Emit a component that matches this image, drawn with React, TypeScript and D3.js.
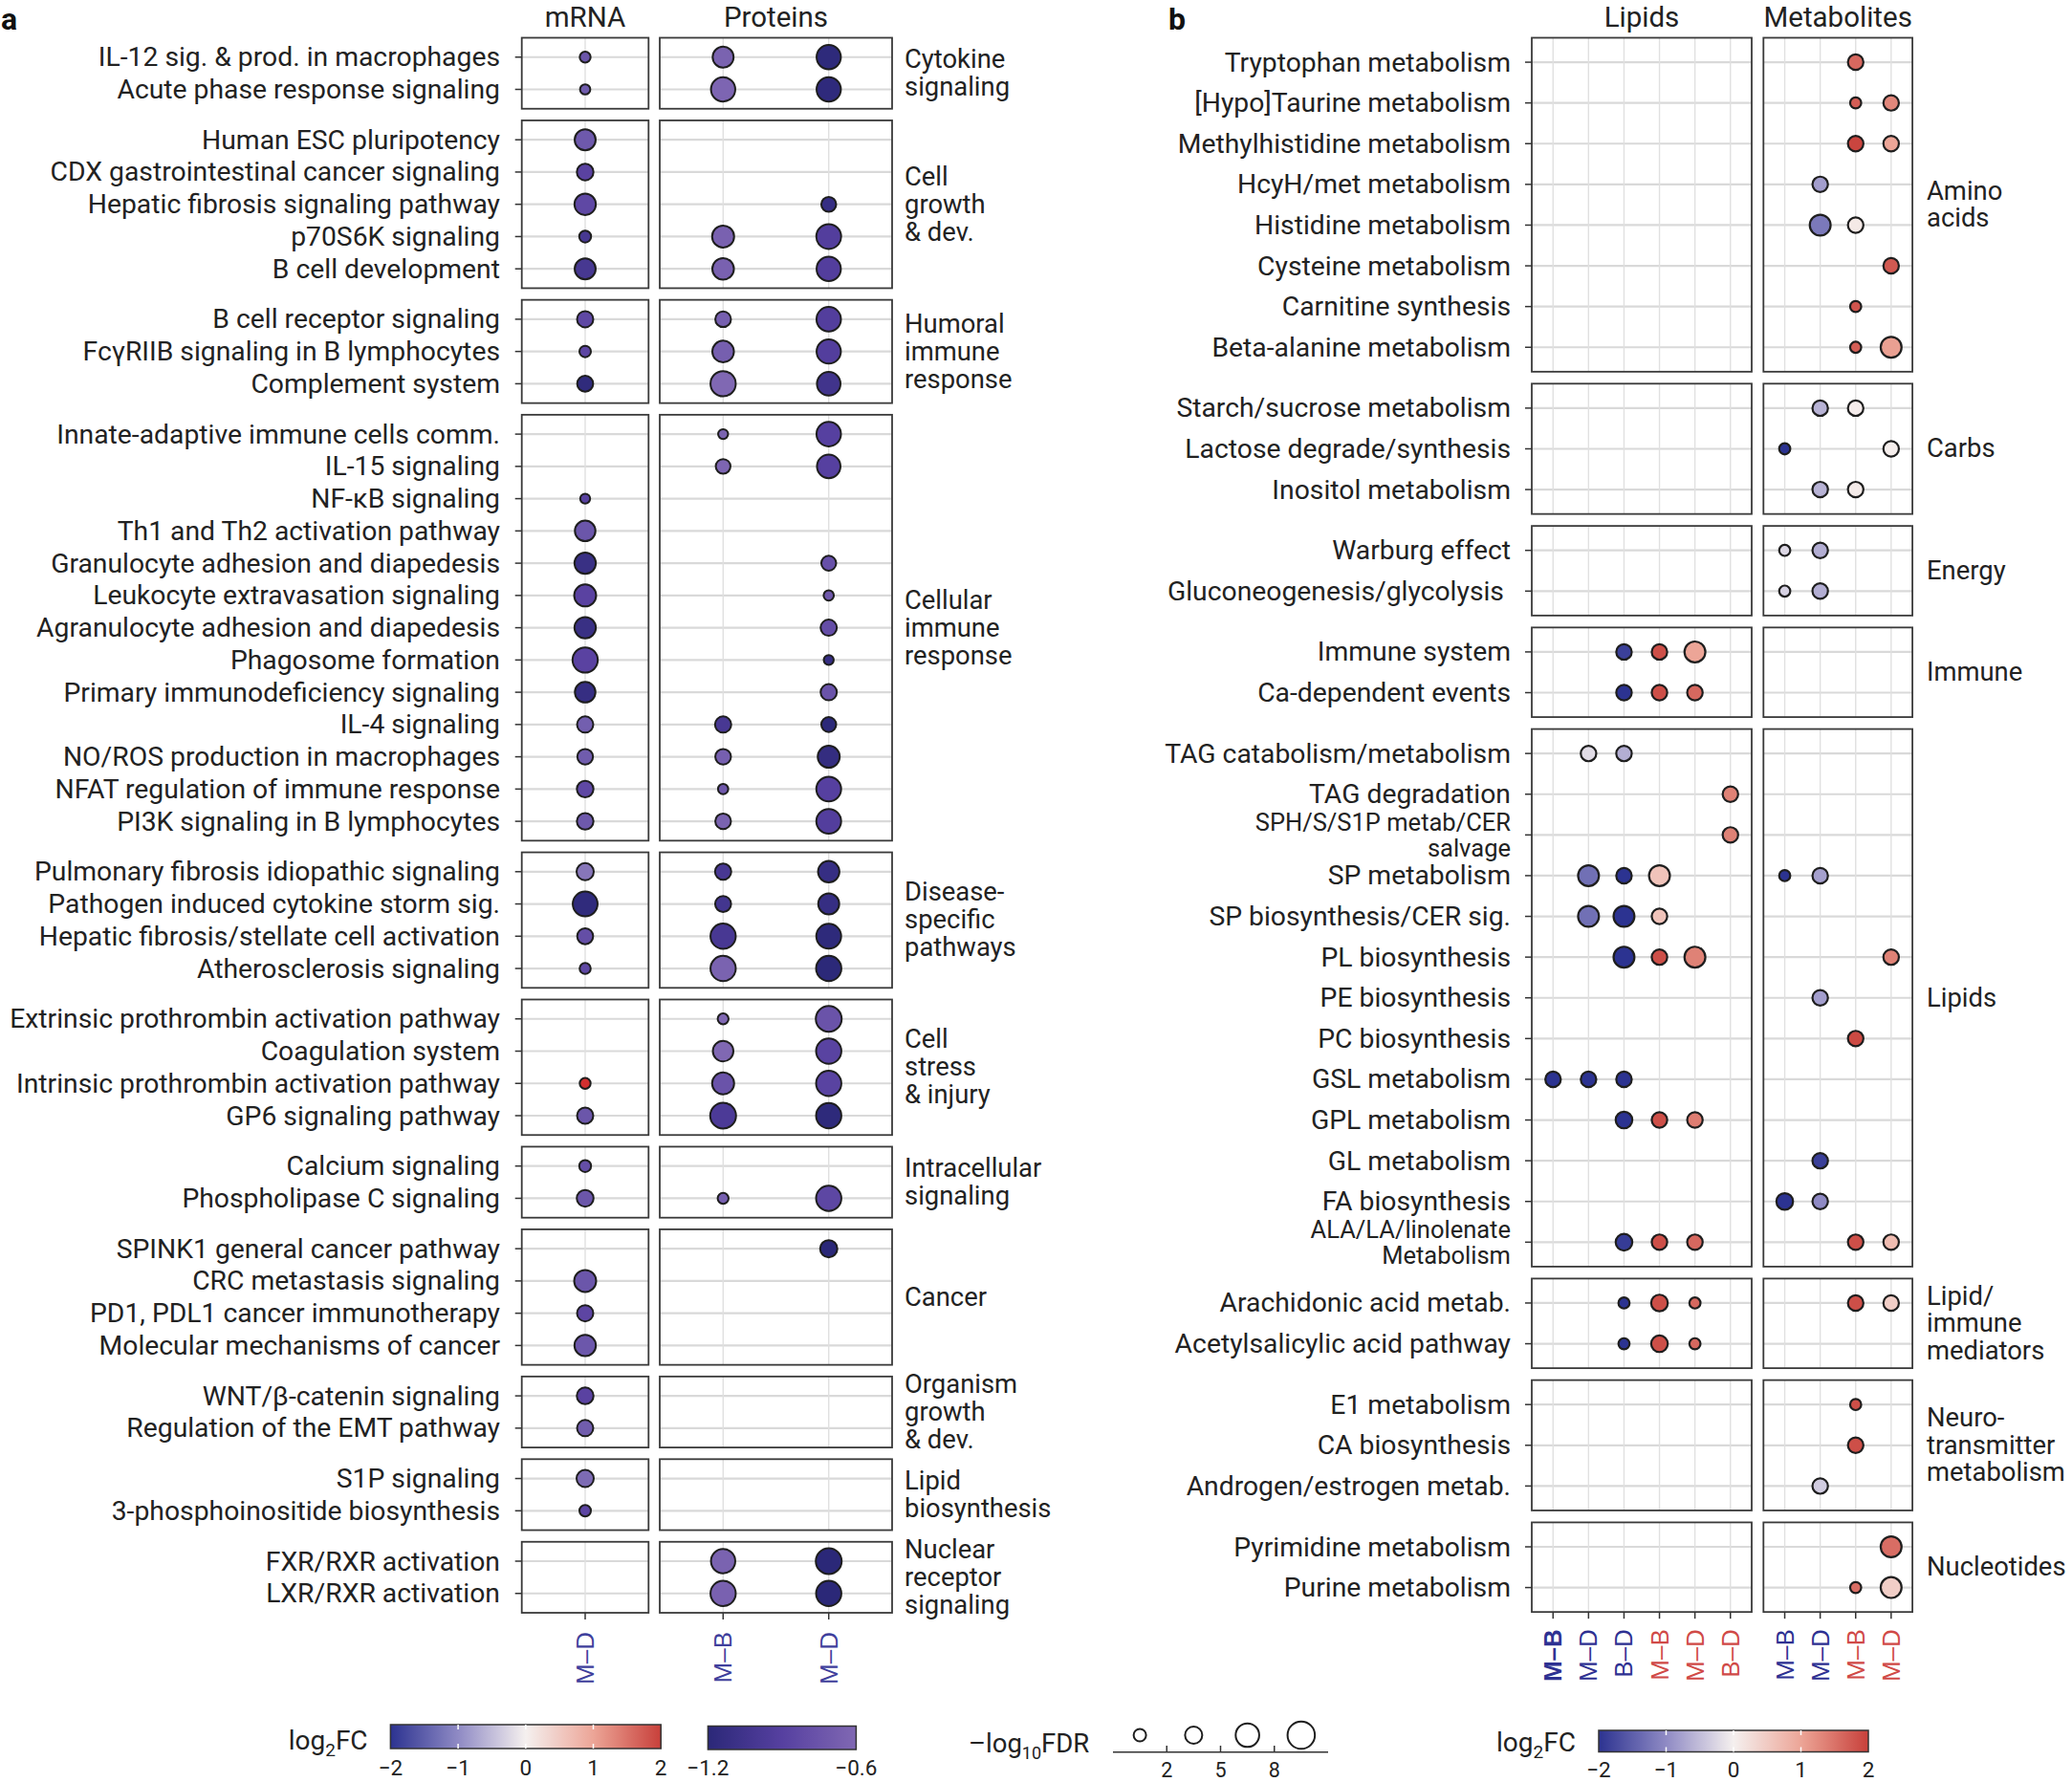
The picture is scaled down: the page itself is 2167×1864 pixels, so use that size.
import React from "react";
import * as d3 from "d3";

const W = 2167;
const H = 1864;
const FONT = "Roboto, 'Noto Sans', 'DejaVu Sans', sans-serif";
const AXFONT = "'Liberation Sans', Arial, sans-serif";
const ROWFS = 28.3;
const ROWFS2 = 25.5;
const STRIPFS = 27.4;

// ---------------- Panel a data ----------------
const aGroupLabels = [
  "Cytokine\nsignaling",
  "Cell\ngrowth\n& dev.",
  "Humoral\nimmune\nresponse",
  "Cellular\nimmune\nresponse",
  "Disease-\nspecific\npathways",
  "Cell\nstress\n& injury",
  "Intracellular\nsignaling",
  "Cancer",
  "Organism\ngrowth\n& dev.",
  "Lipid\nbiosynthesis",
  "Nuclear\nreceptor\nsignaling",
];

const aGroupRows: string[][] = [
  ["IL-12 sig. & prod. in macrophages", "Acute phase response signaling"],
  ["Human ESC pluripotency", "CDX gastrointestinal cancer signaling", "Hepatic fibrosis signaling pathway", "p70S6K signaling", "B cell development"],
  ["B cell receptor signaling", "FcγRIIB signaling in B lymphocytes", "Complement system"],
  ["Innate-adaptive immune cells comm.", "IL-15 signaling", "NF-κB signaling", "Th1 and Th2 activation pathway", "Granulocyte adhesion and diapedesis", "Leukocyte extravasation signaling", "Agranulocyte adhesion and diapedesis", "Phagosome formation", "Primary immunodeficiency signaling", "IL-4 signaling", "NO/ROS production in macrophages", "NFAT regulation of immune response", "PI3K signaling in B lymphocytes"],
  ["Pulmonary fibrosis idiopathic signaling", "Pathogen induced cytokine storm sig.", "Hepatic fibrosis/stellate cell activation", "Atherosclerosis signaling"],
  ["Extrinsic prothrombin activation pathway", "Coagulation system", "Intrinsic prothrombin activation pathway", "GP6 signaling pathway"],
  ["Calcium signaling", "Phospholipase C signaling"],
  ["SPINK1 general cancer pathway", "CRC metastasis signaling", "PD1, PDL1 cancer immunotherapy", "Molecular mechanisms of cancer"],
  ["WNT/β-catenin signaling", "Regulation of the EMT pathway"],
  ["S1P signaling", "3-phosphoinositide biosynthesis"],
  ["FXR/RXR activation", "LXR/RXR activation"],
];

const aMrnaCols = ["M–D"];
const aProtCols = ["M–B", "M–D"];

// [pathway, log2FC, -log10FDR]
const aMrnaMD: [string, number, number][] = [
  ["IL-12 sig. & prod. in macrophages", -1.33, 1.35],
  ["Acute phase response signaling", -1.28, 1.2],
  ["Human ESC pluripotency", -1.3, 5.0],
  ["CDX gastrointestinal cancer signaling", -1.5, 3.15],
  ["Hepatic fibrosis signaling pathway", -1.45, 5.2],
  ["p70S6K signaling", -1.7, 1.6],
  ["B cell development", -1.7, 5.0],
  ["B cell receptor signaling", -1.45, 3.0],
  ["FcγRIIB signaling in B lymphocytes", -1.47, 1.5],
  ["Complement system", -1.95, 2.9],
  ["NF-κB signaling", -1.52, 1.13],
  ["Th1 and Th2 activation pathway", -1.33, 4.8],
  ["Granulocyte adhesion and diapedesis", -1.85, 5.2],
  ["Leukocyte extravasation signaling", -1.5, 5.5],
  ["Agranulocyte adhesion and diapedesis", -1.85, 5.2],
  ["Phagosome formation", -1.5, 7.25],
  ["Primary immunodeficiency signaling", -1.88, 4.8],
  ["IL-4 signaling", -1.25, 3.0],
  ["NO/ROS production in macrophages", -1.28, 2.8],
  ["NFAT regulation of immune response", -1.45, 3.15],
  ["PI3K signaling in B lymphocytes", -1.3, 3.15],
  ["Pulmonary fibrosis idiopathic signaling", -1.05, 3.37],
  ["Pathogen induced cytokine storm sig.", -1.95, 7.0],
  ["Hepatic fibrosis/stellate cell activation", -1.4, 2.9],
  ["Atherosclerosis signaling", -1.45, 1.4],
  ["Intrinsic prothrombin activation pathway", 2.0, 1.35],
  ["GP6 signaling pathway", -1.33, 3.0],
  ["Calcium signaling", -1.4, 1.6],
  ["Phospholipase C signaling", -1.33, 3.2],
  ["CRC metastasis signaling", -1.33, 5.5],
  ["PD1, PDL1 cancer immunotherapy", -1.47, 3.0],
  ["Molecular mechanisms of cancer", -1.32, 5.2],
  ["WNT/β-catenin signaling", -1.5, 3.2],
  ["Regulation of the EMT pathway", -1.27, 3.0],
  ["S1P signaling", -1.15, 3.37],
  ["3-phosphoinositide biosynthesis", -1.47, 1.5],
];

const aProtMB: [string, number, number][] = [
  ["IL-12 sig. & prod. in macrophages", -0.64, 5.0],
  ["Acute phase response signaling", -0.62, 6.7],
  ["p70S6K signaling", -0.65, 5.5],
  ["B cell development", -0.65, 5.3],
  ["B cell receptor signaling", -0.67, 2.8],
  ["FcγRIIB signaling in B lymphocytes", -0.67, 5.3],
  ["Complement system", -0.6, 7.25],
  ["Innate-adaptive immune cells comm.", -0.64, 1.13],
  ["IL-15 signaling", -0.62, 2.47],
  ["IL-4 signaling", -1.0, 3.0],
  ["NO/ROS production in macrophages", -0.67, 2.8],
  ["NFAT regulation of immune response", -0.72, 1.2],
  ["PI3K signaling in B lymphocytes", -0.64, 2.8],
  ["Pulmonary fibrosis idiopathic signaling", -1.0, 3.0],
  ["Pathogen induced cytokine storm sig.", -1.03, 2.9],
  ["Hepatic fibrosis/stellate cell activation", -1.0, 7.25],
  ["Atherosclerosis signaling", -0.64, 7.25],
  ["Extrinsic prothrombin activation pathway", -0.6, 1.35],
  ["Coagulation system", -0.6, 4.8],
  ["Intrinsic prothrombin activation pathway", -0.76, 5.5],
  ["GP6 signaling pathway", -0.97, 7.6],
  ["Phospholipase C signaling", -0.67, 1.35],
  ["FXR/RXR activation", -0.64, 6.7],
  ["LXR/RXR activation", -0.65, 7.25],
];

const aProtMD: [string, number, number][] = [
  ["IL-12 sig. & prod. in macrophages", -1.18, 6.7],
  ["Acute phase response signaling", -1.17, 6.7],
  ["Hepatic fibrosis signaling pathway", -1.12, 2.53],
  ["p70S6K signaling", -0.92, 7.0],
  ["B cell development", -0.92, 6.7],
  ["B cell receptor signaling", -0.92, 6.8],
  ["FcγRIIB signaling in B lymphocytes", -0.92, 6.7],
  ["Complement system", -1.05, 6.3],
  ["Innate-adaptive immune cells comm.", -0.9, 6.8],
  ["IL-15 signaling", -0.9, 6.3],
  ["Granulocyte adhesion and diapedesis", -0.78, 2.53],
  ["Leukocyte extravasation signaling", -0.72, 1.2],
  ["Agranulocyte adhesion and diapedesis", -0.8, 3.0],
  ["Phagosome formation", -1.12, 1.13],
  ["Primary immunodeficiency signaling", -0.76, 3.0],
  ["IL-4 signaling", -1.19, 2.53],
  ["NO/ROS production in macrophages", -1.14, 5.5],
  ["NFAT regulation of immune response", -0.9, 7.0],
  ["PI3K signaling in B lymphocytes", -0.92, 7.0],
  ["Pulmonary fibrosis idiopathic signaling", -1.12, 5.2],
  ["Pathogen induced cytokine storm sig.", -1.12, 5.0],
  ["Hepatic fibrosis/stellate cell activation", -1.18, 7.0],
  ["Atherosclerosis signaling", -1.19, 7.25],
  ["Extrinsic prothrombin activation pathway", -0.76, 7.6],
  ["Coagulation system", -0.88, 7.25],
  ["Intrinsic prothrombin activation pathway", -0.88, 7.25],
  ["GP6 signaling pathway", -1.18, 7.25],
  ["Phospholipase C signaling", -0.85, 7.25],
  ["SPINK1 general cancer pathway", -1.2, 3.37],
  ["FXR/RXR activation", -1.2, 7.6],
  ["LXR/RXR activation", -1.2, 7.25],
];

// ---------------- Panel b data ----------------
const GLUCO = "Gluconeogenesis/glycolysis\u00a0";
const SPH = "SPH/S/S1P metab/CER\nsalvage";
const ALA = "ALA/LA/linolenate\nMetabolism";

const bGroupLabels = [
  "Amino\nacids",
  "Carbs",
  "Energy",
  "Immune",
  "Lipids",
  "Lipid/\nimmune\nmediators",
  "Neuro-\ntransmitter\nmetabolism",
  "Nucleotides",
];

const bGroupRows: string[][] = [
  ["Tryptophan metabolism", "[Hypo]Taurine metabolism", "Methylhistidine metabolism", "HcyH/met metabolism", "Histidine metabolism", "Cysteine metabolism", "Carnitine synthesis", "Beta-alanine metabolism"],
  ["Starch/sucrose metabolism", "Lactose degrade/synthesis", "Inositol metabolism"],
  ["Warburg effect", GLUCO],
  ["Immune system", "Ca-dependent events"],
  ["TAG catabolism/metabolism", "TAG degradation", SPH, "SP metabolism", "SP biosynthesis/CER sig.", "PL biosynthesis", "PE biosynthesis", "PC biosynthesis", "GSL metabolism", "GPL metabolism", "GL metabolism", "FA biosynthesis", ALA],
  ["Arachidonic acid metab.", "Acetylsalicylic acid pathway"],
  ["E1 metabolism", "CA biosynthesis", "Androgen/estrogen metab."],
  ["Pyrimidine metabolism", "Purine metabolism"],
];

const bLipidCols = ["M–B", "M–D", "B–D", "M–B", "M–D", "B–D"];
const bMetabCols = ["M–B", "M–D", "M–B", "M–D"];

// [pathway, column index, log2FC, -log10FDR]
const bLipidPts: [string, number, number, number][] = [
  ["Immune system", 2, -1.85, 2.73], ["Immune system", 3, 1.85, 2.73], ["Immune system", 4, 1.0, 4.95],
  ["Ca-dependent events", 2, -2, 2.73], ["Ca-dependent events", 3, 1.85, 2.73], ["Ca-dependent events", 4, 1.6, 2.73],
  ["TAG catabolism/metabolism", 1, -0.2, 2.73], ["TAG catabolism/metabolism", 2, -0.65, 2.73],
  ["TAG degradation", 5, 1.35, 2.73],
  [SPH, 5, 1.35, 2.73],
  ["SP metabolism", 1, -1.3, 4.95], ["SP metabolism", 2, -2, 2.73], ["SP metabolism", 3, 0.6, 4.95],
  ["SP biosynthesis/CER sig.", 1, -1.3, 4.95], ["SP biosynthesis/CER sig.", 2, -2, 4.95], ["SP biosynthesis/CER sig.", 3, 0.6, 2.73],
  ["PL biosynthesis", 2, -2, 4.95], ["PL biosynthesis", 3, 1.85, 2.73], ["PL biosynthesis", 4, 1.35, 4.95],
  ["GSL metabolism", 0, -2, 2.73], ["GSL metabolism", 1, -2, 2.73], ["GSL metabolism", 2, -2, 2.73],
  ["GPL metabolism", 2, -2, 3.15], ["GPL metabolism", 3, 1.85, 2.73], ["GPL metabolism", 4, 1.4, 2.73],
  [ALA, 2, -1.9, 3.15], [ALA, 3, 1.85, 2.73], [ALA, 4, 1.6, 2.73],
  ["Arachidonic acid metab.", 2, -2, 1.4], ["Arachidonic acid metab.", 3, 1.85, 3.15], ["Arachidonic acid metab.", 4, 1.6, 1.4],
  ["Acetylsalicylic acid pathway", 2, -2, 1.4], ["Acetylsalicylic acid pathway", 3, 1.85, 3.15], ["Acetylsalicylic acid pathway", 4, 1.6, 1.4],
];

const bMetabPts: [string, number, number, number][] = [
  ["Tryptophan metabolism", 2, 1.6, 2.73],
  ["[Hypo]Taurine metabolism", 2, 1.7, 1.4], ["[Hypo]Taurine metabolism", 3, 1.3, 2.73],
  ["Methylhistidine metabolism", 2, 1.95, 2.73], ["Methylhistidine metabolism", 3, 1.0, 2.73],
  ["HcyH/met metabolism", 1, -0.8, 2.73],
  ["Histidine metabolism", 1, -1.2, 4.95], ["Histidine metabolism", 2, 0.1, 2.73],
  ["Cysteine metabolism", 3, 1.75, 2.73],
  ["Carnitine synthesis", 2, 1.8, 1.4],
  ["Beta-alanine metabolism", 2, 1.7, 1.4], ["Beta-alanine metabolism", 3, 1.05, 4.95],
  ["Starch/sucrose metabolism", 1, -0.6, 2.73], ["Starch/sucrose metabolism", 2, 0.05, 2.73],
  ["Lactose degrade/synthesis", 0, -2, 1.4], ["Lactose degrade/synthesis", 3, 0.03, 2.73],
  ["Inositol metabolism", 1, -0.6, 2.73], ["Inositol metabolism", 2, 0.07, 2.73],
  ["Warburg effect", 0, -0.25, 1.4], ["Warburg effect", 1, -0.65, 2.73],
  [GLUCO, 0, -0.3, 1.4], [GLUCO, 1, -0.65, 2.73],
  ["SP metabolism", 0, -2, 1.4], ["SP metabolism", 1, -0.78, 2.73],
  ["PL biosynthesis", 3, 1.35, 2.73],
  ["PE biosynthesis", 1, -0.8, 2.73],
  ["PC biosynthesis", 2, 1.9, 2.73],
  ["GL metabolism", 1, -1.85, 2.73],
  ["FA biosynthesis", 0, -2, 3.15], ["FA biosynthesis", 1, -1.0, 2.73],
  [ALA, 2, 1.85, 2.73], [ALA, 3, 0.7, 2.73],
  ["Arachidonic acid metab.", 2, 1.85, 2.73], ["Arachidonic acid metab.", 3, 0.45, 2.73],
  ["E1 metabolism", 2, 1.85, 1.4],
  ["CA biosynthesis", 2, 1.85, 2.73],
  ["Androgen/estrogen metab.", 1, -0.35, 2.73],
  ["Pyrimidine metabolism", 3, 1.55, 4.95],
  ["Purine metabolism", 2, 1.55, 1.4], ["Purine metabolism", 3, 0.45, 4.95],
];

// ---------------- Legend data ----------------
const fcTicks = [-2, -1, 0, 1, 2];
const protTicks = [-1.2, -0.6];
const fdrBreaks = [2, 5, 8];
const fdrKeys = [1.76, 3.37, 6.3, 8.5];

// ---------------- Scales ----------------
const rScale = d3.scaleSqrt().domain([0, 10]).range([0, 15.5]);
const mrnaColor = d3.scaleLinear<string>().domain([-2, -1.5, -1, 0, 1, 2]).range(["#2b2878", "#5a42a1", "#8c7cbc", "#f7f7f7", "#eba89d", "#d22f2f"]);
const protColor = d3.scaleLinear<string>().domain([-1.2, -0.9, -0.6]).range(["#2b2878", "#5640a0", "#8068b3"]);
const fcColor = d3.scaleLinear<string>().domain([-2, -1, 0, 1, 2]).range(["#2c3391", "#8f8ac4", "#f5f0ef", "#eca597", "#c8403a"]);

type RowBlock = { y0: number; y1: number; scale: d3.ScalePoint<string> };

function stackRows(groups: string[][], top: number, u: number, gap: number): RowBlock[] {
  let y = top;
  return groups.map((rows) => {
    const h = (rows.length - 1 + 1.2) * u;
    const scale = d3.scalePoint<string>().domain(rows).range([y, y + h]).padding(0.6);
    const blk = { y0: y, y1: y + h, scale };
    y += h + gap;
    return blk;
  });
}

function yOf(blocks: RowBlock[], name: string): number {
  for (const b of blocks) {
    const v = b.scale(name);
    if (v !== undefined) return v;
  }
  return NaN;
}

function Frame({ x0, x1, y0, y1, xs, ys }: { x0: number; x1: number; y0: number; y1: number; xs: number[]; ys: number[] }) {
  return (
    <g>
      {ys.map((y, i) => (
        <line key={"h" + i} x1={x0} x2={x1} y1={y} y2={y} stroke="#d9d9d9" strokeWidth={2.2} />
      ))}
      {xs.map((x, i) => (
        <line key={"v" + i} x1={x} x2={x} y1={y0} y2={y1} stroke="#e0e0e0" strokeWidth={1.4} />
      ))}
      <rect x={x0} y={y0} width={x1 - x0} height={y1 - y0} fill="none" stroke="#3a3a3a" strokeWidth={1.8} />
    </g>
  );
}

function MultiLine({ x, y, text, lh, size, anchor = "start" }: { x: number; y: number; text: string; lh: number; size: number; anchor?: string }) {
  const lines = text.split("\n");
  const start = y - ((lines.length - 1) / 2) * lh;
  return (
    <text x={x} fontFamily={FONT} fontSize={size} fill="#222" textAnchor={anchor as any}>
      {lines.map((l, i) => (
        <tspan key={i} x={x} y={start + i * lh} dominantBaseline="central">
          {l}
        </tspan>
      ))}
    </text>
  );
}

export default function App() {
  // ---- panel a layout ----
  const aBlocks = stackRows(aGroupRows, 39.5, 33.75, 12.2);
  const aXm = d3.scalePoint<string>().domain(aMrnaCols).range([545.7, 678.3]).padding(0.6);
  const aXp = d3.scalePoint<string>().domain(aProtCols).range([690, 933]).padding(0.6);
  const aBottom = aBlocks[aBlocks.length - 1].y1;

  // ---- panel b layout ----
  const bBlocks = stackRows(bGroupRows, 39.5, 42.6, 12.5);
  const bXl = d3.scalePoint<number>().domain(d3.range(bLipidCols.length)).range([1602, 1832]).padding(0.6);
  const bXm = d3.scalePoint<number>().domain(d3.range(bMetabCols.length)).range([1844.3, 2000.1]).padding(0.6);
  const bBottom = bBlocks[bBlocks.length - 1].y1;

  const aMx = aMrnaCols.map((c) => aXm(c)!);
  const aPx = aProtCols.map((c) => aXp(c)!);
  const bLx = bLipidCols.map((_, i) => bXl(i)!);
  const bMx = bMetabCols.map((_, i) => bXm(i)!);

  // legends
  const barA = d3.scaleLinear().domain([-2, 2]).range([408.4, 691.2]);
  const barP = d3.scaleLinear().domain([-1.2, -0.6]).range([740.4, 895.4]);
  const barB = d3.scaleLinear().domain([-2, 2]).range([1672, 1954]);
  const binX = d3.scaleBand<number>().domain(d3.range(fdrKeys.length)).range([1164, 1389]);
  const gradStops = d3.range(0, 1.0001, 0.05);

  const blue = "#2e3192";
  const red = "#d04a47";

  return (
    <svg width={W} height={H} style={{ position: "absolute", left: 0, top: 0, background: "#fff" }} xmlns="http://www.w3.org/2000/svg">
      <defs>
        <linearGradient id="gFC" x1="0" x2="1" y1="0" y2="0">
          {gradStops.map((t, i) => (
            <stop key={i} offset={t} stopColor={fcColor(-2 + 4 * t)} />
          ))}
        </linearGradient>
        <linearGradient id="gProt" x1="0" x2="1" y1="0" y2="0">
          {gradStops.map((t, i) => (
            <stop key={i} offset={t} stopColor={protColor(-1.2 + 0.6 * t)} />
          ))}
        </linearGradient>
      </defs>
      <rect width={W} height={H} fill="#fff" />

      {/* panel letters */}
      <text x={1} y={31} fontFamily={FONT} fontWeight={700} fontSize={32} fill="#111">a</text>
      <text x={1222} y={31} fontFamily={FONT} fontWeight={700} fontSize={32} fill="#111">b</text>

      {/* ================= Panel a ================= */}
      <text x={(545.7 + 678.3) / 2} y={28} textAnchor="middle" fontFamily={FONT} fontSize={29.5} fill="#222">mRNA</text>
      <text x={(690 + 933) / 2} y={28} textAnchor="middle" fontFamily={FONT} fontSize={29.5} fill="#222">Proteins</text>

      {aBlocks.map((b, gi) => {
        const ys = b.scale.domain().map((r) => b.scale(r)!);
        return (
          <g key={"ag" + gi}>
            <Frame x0={545.7} x1={678.3} y0={b.y0} y1={b.y1} xs={aMx} ys={ys} />
            <Frame x0={690} x1={933} y0={b.y0} y1={b.y1} xs={aPx} ys={ys} />
            {b.scale.domain().map((r) => (
              <g key={r}>
                <line x1={538.7} x2={545.7} y1={b.scale(r)!} y2={b.scale(r)!} stroke="#333" strokeWidth={1.5} />
                <text x={523} y={b.scale(r)!} textAnchor="end" dominantBaseline="central" fontFamily={FONT} fontSize={ROWFS} fill="#222">{r}</text>
              </g>
            ))}
            <MultiLine x={946} y={(b.y0 + b.y1) / 2} text={aGroupLabels[gi]} lh={29} size={STRIPFS} />
          </g>
        );
      })}

      {aMrnaMD.map(([r, fc, q], i) => (
        <circle key={"am" + i} cx={aXm("M–D")!} cy={yOf(aBlocks, r)} r={rScale(q)} fill={mrnaColor(fc)} stroke="#1e1e1e" strokeWidth={2} />
      ))}
      {aProtMB.map(([r, fc, q], i) => (
        <circle key={"apb" + i} cx={aXp("M–B")!} cy={yOf(aBlocks, r)} r={rScale(q)} fill={protColor(fc)} stroke="#1e1e1e" strokeWidth={2} />
      ))}
      {aProtMD.map(([r, fc, q], i) => (
        <circle key={"apd" + i} cx={aXp("M–D")!} cy={yOf(aBlocks, r)} r={rScale(q)} fill={protColor(fc)} stroke="#1e1e1e" strokeWidth={2} />
      ))}

      {/* panel a x axis */}
      {[...aMrnaCols.map((c) => [c, aXm(c)!] as [string, number]), ...aProtCols.map((c) => [c, aXp(c)!] as [string, number])].map(([c, x], i) => (
        <g key={"ax" + i}>
          <line x1={x} x2={x} y1={aBottom} y2={aBottom + 7} stroke="#333" strokeWidth={1.5} />
          <text transform={`translate(${x},${aBottom + 20}) rotate(-90)`} textAnchor="end" dominantBaseline="central" fontFamily={AXFONT} fontSize={26} fill="#3f3f9c">{c}</text>
        </g>
      ))}

      {/* ================= Panel b ================= */}
      <text x={(1602 + 1832) / 2} y={28} textAnchor="middle" fontFamily={FONT} fontSize={29.5} fill="#222">Lipids</text>
      <text x={(1844.3 + 2000.1) / 2} y={28} textAnchor="middle" fontFamily={FONT} fontSize={29.5} fill="#222">Metabolites</text>

      {bBlocks.map((b, gi) => {
        const ys = b.scale.domain().map((r) => b.scale(r)!);
        return (
          <g key={"bg" + gi}>
            <Frame x0={1602} x1={1832} y0={b.y0} y1={b.y1} xs={bLx} ys={ys} />
            <Frame x0={1844.3} x1={2000.1} y0={b.y0} y1={b.y1} xs={bMx} ys={ys} />
            {b.scale.domain().map((r) => {
              const y = b.scale(r)!;
              const lines = r.split("\n");
              return (
                <g key={r}>
                  <line x1={1595} x2={1602} y1={y} y2={y} stroke="#333" strokeWidth={1.5} />
                  {lines.length === 1 ? (
                    <text x={1580} y={y} textAnchor="end" dominantBaseline="central" fontFamily={FONT} fontSize={ROWFS} fill="#222" style={{ whiteSpace: "pre" }}>{r}</text>
                  ) : (
                    <text x={1580} textAnchor="end" fontFamily={FONT} fontSize={ROWFS2} fill="#222">
                      {lines.map((l, li) => (
                        <tspan key={li} x={1580} y={y - 13.5 + li * 27} dominantBaseline="central">{l}</tspan>
                      ))}
                    </text>
                  )}
                </g>
              );
            })}
            <MultiLine x={2015} y={(b.y0 + b.y1) / 2} text={bGroupLabels[gi]} lh={28.6} size={STRIPFS} />
          </g>
        );
      })}

      {bLipidPts.map(([r, c, fc, q], i) => (
        <circle key={"bl" + i} cx={bXl(c)!} cy={yOf(bBlocks, r)} r={rScale(q)} fill={fcColor(fc)} stroke="#1e1e1e" strokeWidth={2.2} />
      ))}
      {bMetabPts.map(([r, c, fc, q], i) => (
        <circle key={"bm" + i} cx={bXm(c)!} cy={yOf(bBlocks, r)} r={rScale(q)} fill={fcColor(fc)} stroke="#1e1e1e" strokeWidth={2.2} />
      ))}

      {/* panel b x axis */}
      {bLipidCols.map((c, i) => (
        <g key={"bxl" + i}>
          <line x1={bXl(i)!} x2={bXl(i)!} y1={bBottom} y2={bBottom + 7} stroke="#333" strokeWidth={1.5} />
          <text transform={`translate(${bXl(i)!},${bBottom + 18}) rotate(-90)`} textAnchor="end" dominantBaseline="central" fontFamily={AXFONT} fontSize={26} fontWeight={i === 0 ? 700 : 400} fill={i < 3 ? blue : red}>{c}</text>
        </g>
      ))}
      {bMetabCols.map((c, i) => (
        <g key={"bxm" + i}>
          <line x1={bXm(i)!} x2={bXm(i)!} y1={bBottom} y2={bBottom + 7} stroke="#333" strokeWidth={1.5} />
          <text transform={`translate(${bXm(i)!},${bBottom + 18}) rotate(-90)`} textAnchor="end" dominantBaseline="central" fontFamily={AXFONT} fontSize={26} fill={i < 2 ? blue : red}>{c}</text>
        </g>
      ))}

      {/* ================= Legends ================= */}
      {/* log2FC (a) */}
      <text x={301.7} y={1830} fontFamily={FONT} fontSize={28} fill="#222">
        log<tspan dy={7} fontSize={19}>2</tspan><tspan dy={-7}>FC</tspan>
      </text>
      <rect x={barA(-2)} y={1804} width={barA(2) - barA(-2)} height={25} fill="url(#gFC)" stroke="#333" strokeWidth={1.5} />
      {[-1, 0, 1].map((t) => (
        <g key={"ta" + t}>
          <line x1={barA(t)} x2={barA(t)} y1={1804} y2={1809} stroke="#fff" strokeWidth={1.5} />
          <line x1={barA(t)} x2={barA(t)} y1={1824} y2={1829} stroke="#fff" strokeWidth={1.5} />
        </g>
      ))}
      {fcTicks.map((t) => (
        <text key={"la" + t} x={barA(t)} y={1849} textAnchor="middle" dominantBaseline="central" fontFamily={FONT} fontSize={22.5} fill="#222">{t < 0 ? "−" + Math.abs(t) : String(t)}</text>
      ))}
      <rect x={barP(-1.2)} y={1805.5} width={barP(-0.6) - barP(-1.2)} height={24.5} fill="url(#gProt)" stroke="#333" strokeWidth={1.5} />
      {protTicks.map((t) => (
        <text key={"lp" + t} x={barP(t)} y={1849} textAnchor="middle" dominantBaseline="central" fontFamily={FONT} fontSize={22.5} fill="#222">{"−" + Math.abs(t).toFixed(1)}</text>
      ))}

      {/* size legend */}
      <text x={1013} y={1833} fontFamily={FONT} fontSize={27.5} fill="#222">
        –log<tspan dy={7} fontSize={18}>10</tspan><tspan dy={-7}>FDR</tspan>
      </text>
      <line x1={1164} x2={1389} y1={1832.7} y2={1832.7} stroke="#333" strokeWidth={1.5} />
      {fdrBreaks.map((b, i) => {
        const x = binX(i + 1)!;
        return (
          <g key={"fb" + i}>
            <line x1={x} x2={x} y1={1826} y2={1832.7} stroke="#333" strokeWidth={1.5} />
            <text x={x} y={1851} textAnchor="middle" dominantBaseline="central" fontFamily={FONT} fontSize={21.5} fill="#222">{b}</text>
          </g>
        );
      })}
      {fdrKeys.map((k, i) => (
        <circle key={"fk" + i} cx={binX(i)! + binX.bandwidth() / 2} cy={1815} r={rScale(k)} fill="none" stroke="#1e1e1e" strokeWidth={2} />
      ))}

      {/* log2FC (b) */}
      <text x={1565} y={1832} fontFamily={FONT} fontSize={28} fill="#222">
        log<tspan dy={7} fontSize={19}>2</tspan><tspan dy={-7}>FC</tspan>
      </text>
      <rect x={barB(-2)} y={1810} width={barB(2) - barB(-2)} height={22.5} fill="url(#gFC)" stroke="#333" strokeWidth={1.5} />
      {[-1, 0, 1].map((t) => (
        <g key={"tb" + t}>
          <line x1={barB(t)} x2={barB(t)} y1={1810} y2={1815} stroke="#fff" strokeWidth={1.5} />
          <line x1={barB(t)} x2={barB(t)} y1={1827.5} y2={1832.5} stroke="#fff" strokeWidth={1.5} />
        </g>
      ))}
      {fcTicks.map((t) => (
        <text key={"lb" + t} x={barB(t)} y={1851} textAnchor="middle" dominantBaseline="central" fontFamily={FONT} fontSize={22.5} fill="#222">{t < 0 ? "−" + Math.abs(t) : String(t)}</text>
      ))}
    </svg>
  );
}
